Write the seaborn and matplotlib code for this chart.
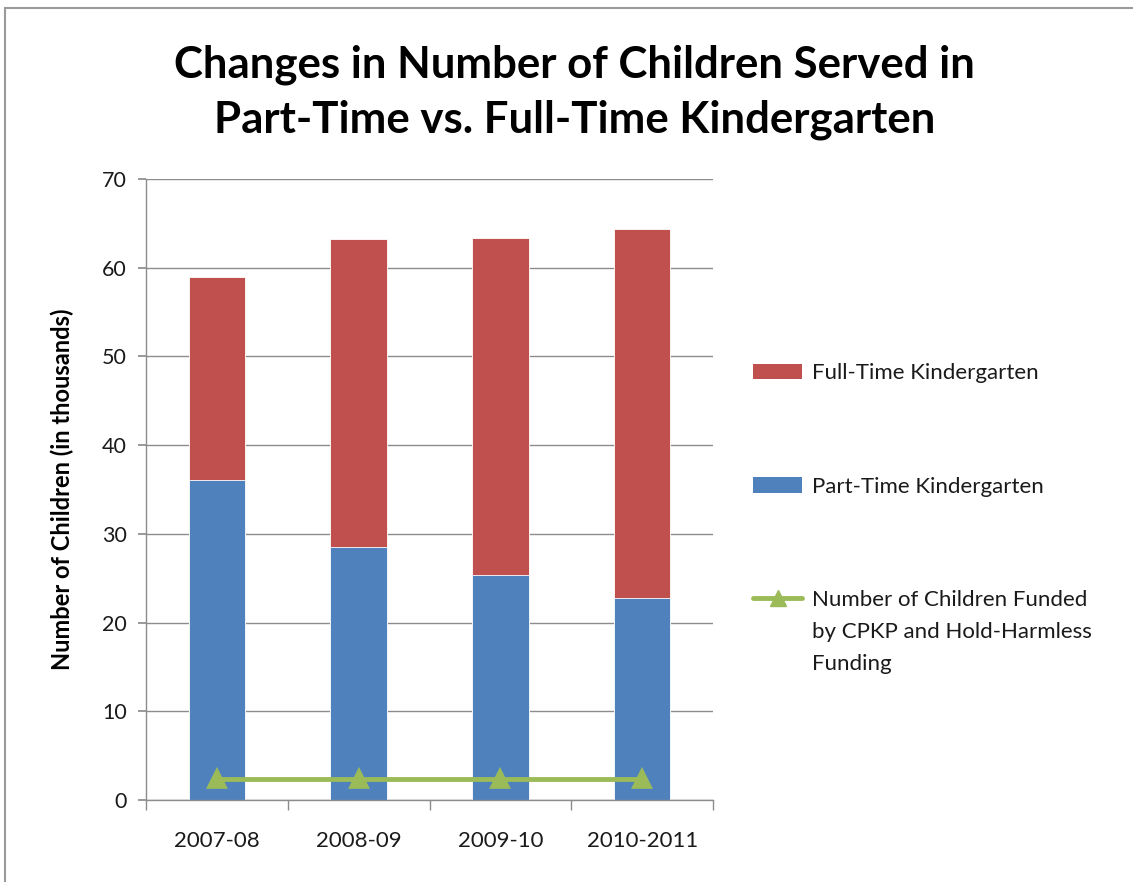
import matplotlib
matplotlib.use("Agg")
import matplotlib.pyplot as plt
from matplotlib.patches import Patch, Rectangle
from matplotlib.lines import Line2D
import seaborn as sns
import numpy as np

# Data (thousands of children)
years = ["2007-08", "2008-09", "2009-10", "2010-2011"]
part_time = [36.1, 28.5, 25.4, 22.8]
full_time = [22.9, 34.7, 38.0, 41.6]
funded = [2.4, 2.4, 2.4, 2.4]

series_names = ["Full-Time Kindergarten", "Part-Time Kindergarten",
                "Number of Children Funded"]
funded_label_rest = ["by CPKP and Hold-Harmless", "Funding"]

RED = "#C0504D"
BLUE = "#4F81BD"
GREEN = "#9BBB59"
GRID = "#8C8C8C"
TEXT = "#1a1a1a"

sns.set_theme(style="white")
plt.rcParams["font.family"] = ["Lato", "DejaVu Sans"]

fig = plt.figure(figsize=(11.33, 8.82), dpi=100)
ax = fig.add_axes([0.1289, 0.093, 0.5004, 0.704])

totals = [p + f for p, f in zip(part_time, full_time)]

# Stacked bars: totals in red, part-time drawn over in blue
sns.barplot(x=years, y=totals, color=RED, saturation=1, width=0.4, ax=ax,
            edgecolor="white", linewidth=0.6)
sns.barplot(x=years, y=part_time, color=BLUE, saturation=1, width=0.4, ax=ax,
            edgecolor="white", linewidth=0.6)
sns.pointplot(x=years, y=funded, color=GREEN, markers="^", markersize=12,
              linewidth=3.5, ax=ax)

ax.set_xlim(-0.5, 3.5)
ax.set_ylim(0, 70)
ax.set_yticks(np.arange(0, 71, 10))
ax.yaxis.grid(True, color=GRID, linewidth=1.0)
ax.set_axisbelow(True)
for side in ["top", "right"]:
    ax.spines[side].set_visible(False)
for side in ["left", "bottom"]:
    ax.spines[side].set_color(GRID)
    ax.spines[side].set_linewidth(1.0)

ax.tick_params(axis="y", which="major", left=True, length=6, color=GRID,
               labelsize=15.5, pad=8, labelcolor=TEXT)
ax.tick_params(axis="x", which="major", bottom=False, labelsize=16, pad=16,
               labelcolor=TEXT)
ax.set_xticks(np.arange(-0.5, 3.6, 1.0), minor=True)
ax.tick_params(axis="x", which="minor", bottom=True, length=7, color=GRID)

ax.set_xlabel("")
ax.set_ylabel("Number of Children (in thousands)", fontsize=17,
              fontweight="bold", labelpad=20, color="black")

fig.suptitle("Changes in Number of Children Served in\nPart-Time vs. Full-Time Kindergarten",
             x=0.507, y=0.950, fontsize=31.5, fontweight="bold",
             linespacing=1.45, color="black")

handles = [
    Patch(facecolor=RED, edgecolor="none"),
    Patch(facecolor=BLUE, edgecolor="none"),
    Line2D([0], [0], color=GREEN, linewidth=3.5, marker="^", markersize=12),
]
leg = fig.legend(handles, series_names, loc="upper left",
                 bbox_to_anchor=(0.657, 0.598), frameon=False, fontsize=16,
                 labelspacing=4.2, handlelength=2.2, handletextpad=0.45,
                 borderaxespad=0)
for t in leg.get_texts():
    t.set_color(TEXT)

# Continuation lines of the third legend entry
fig.canvas.draw()
inv = fig.transFigure.inverted()
bb = leg.get_texts()[2].get_window_extent()
x0, y0 = inv.transform((bb.x0, bb.y0))
step = 32 / fig.bbox.height
for i, line in enumerate(funded_label_rest, start=1):
    fig.text(x0, y0 - i * step, line, fontsize=16, color=TEXT,
             ha="left", va="bottom")

# Chart border
fig.add_artist(Rectangle((0.004, -0.02), 1.05, 1.011,
                         transform=fig.transFigure, fill=False,
                         edgecolor="#9A9A9A", linewidth=1.5))

fig.savefig("out.png", dpi=100, facecolor="white")
